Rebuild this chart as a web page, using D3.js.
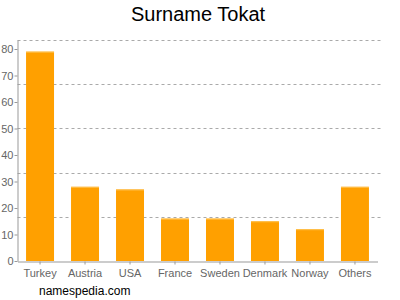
<!DOCTYPE html>
<html><head><meta charset="utf-8">
<script src="https://cdn.jsdelivr.net/npm/d3@7"></script>
<style>body{margin:0;background:#fff}svg{display:block}</style>
</head><body>
<script>
const categories = ["Turkey","Austria","USA","France","Sweden","Denmark","Norway","Others"];
const values = [79,28,27,16,16,15,12,28];
const yTicks = [0,10,20,30,40,50,60,70,80];
const title = "Surname Tokat";
const source = "namespedia.com";

(function(){
const W=400,H=300;
const svg=d3.select("body").append("svg").attr("width",W).attr("height",H);
const mL=17.5,mR=377.5,mT=40,mB=261;
const x=d3.scaleBand().domain(categories).range([mL,mR]).paddingInner(0.378).paddingOuter(0.19);
const y=d3.scaleLinear().domain([0,83.4]).range([mB,mT]);

const gl=d3.range(0,5).map(i=>mT+i*(mB-mT)/5);
svg.append("g").selectAll("line").data(gl).join("line")
  .attr("x1",mL).attr("x2",mR+3).attr("y1",d=>Math.round(d)+0.5).attr("y2",d=>Math.round(d)+0.5)
  .attr("stroke","#aaa").attr("stroke-dasharray","3,3").attr("stroke-width",1);

svg.append("g").selectAll("rect").data(values).join("rect")
  .attr("x",(d,i)=>x(categories[i])).attr("width",x.bandwidth())
  .attr("y",d=>y(d)).attr("height",d=>mB-y(d)).attr("fill","#ffa000");
svg.append("g").selectAll("rect").data(values).join("rect")
  .attr("x",(d,i)=>x(categories[i])).attr("width",x.bandwidth())
  .attr("y",d=>y(d)).attr("height",1).attr("fill","#ffc250");

const ya=svg.append("g").attr("transform",`translate(${mL},0)`)
  .call(d3.axisLeft(y).tickValues(yTicks).tickSize(3).tickSizeOuter(0));
ya.select(".domain").attr("stroke","#999");
ya.selectAll(".tick line").attr("stroke","#999");
ya.selectAll("text").attr("fill","#666").style("font-family","Arial, 'Liberation Sans', sans-serif").style("font-size","11px").attr("x",-4);

const xa=svg.append("g").attr("transform",`translate(0,${mB+0.5})`)
  .call(d3.axisBottom(x).tickSize(3).tickSizeOuter(0));
xa.select(".domain").attr("stroke","#999");
xa.selectAll(".tick line").attr("stroke","#999");
xa.selectAll("text").attr("fill","#666").style("font-family","Arial, 'Liberation Sans', sans-serif").style("font-size","11px").attr("dy","0.9em");

svg.append("text").attr("x",198).attr("y",21).attr("text-anchor","middle")
  .style("font-family","Arial, 'Liberation Sans', sans-serif").style("font-size","20px").attr("fill","#000").text(title);
svg.append("text").attr("x",39).attr("y",295)
  .style("font-family","Arial, 'Liberation Sans', sans-serif").style("font-size","12px").attr("fill","#000").text(source);
})();
</script>
</body></html>
